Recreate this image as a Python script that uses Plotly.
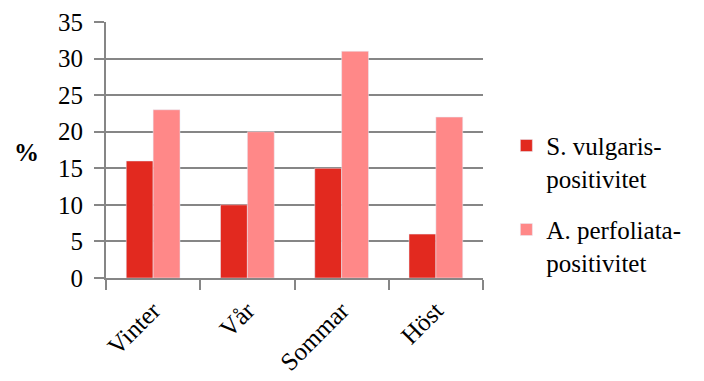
import plotly.graph_objects as go

seasons = ["Vinter", "Vår", "Sommar", "Höst"]
s_vulgaris = [16, 10, 15, 6]
a_perfoliata = [23, 20, 31, 22]
series_names = ["S. vulgaris-<br>positivitet", "A. perfoliata-<br>positivitet"]
y_ticks = [0, 5, 10, 15, 20, 25, 30, 35]

grid = "#868686"

fig = go.Figure()
fig.add_trace(go.Bar(x=seasons, y=s_vulgaris, name=series_names[0], legendgroup="s",
                     marker_color="#E2291F"))
fig.add_trace(go.Bar(x=seasons, y=a_perfoliata, name=series_names[1], legendgroup="a",
                     marker_color="#FF8888"))

# one global serif font, inherited by ticks, legend and annotation
fig.update_layout(width=704, height=381, font=dict(family="Times New Roman", size=25, color="black"))
fig.update_layout(
    margin=dict(l=106, r=221, t=22, b=103),
    paper_bgcolor="white", plot_bgcolor="white",
    barmode="group", bargap=0.43, bargroupgap=0,
    legend=dict(x=1.062, y=0.29, xanchor="left", yanchor="middle",
                valign="top", tracegroupgap=16),
)
fig.update_xaxes(
    type="category", showline=True, linecolor=grid, linewidth=2,
    ticks="outside", tickson="boundaries", ticklen=10, tickcolor=grid, tickwidth=2,
    tickangle=-45, showgrid=False, ticklabelstandoff=6, automargin=False,
)
fig.update_yaxes(
    range=[0, 35], tickvals=y_ticks, showline=True, linecolor=grid, linewidth=2,
    showgrid=True, gridcolor=grid, gridwidth=2, automargin=False,
    ticks="outside", ticklen=10, tickcolor=grid, tickwidth=2, ticklabelstandoff=6,
    zeroline=False,
)
fig.add_annotation(text="<b>%</b>", xref="paper", yref="paper", x=-0.21, y=0.49,
                   showarrow=False, xanchor="center", yanchor="middle")

fig.write_html("out.html")
